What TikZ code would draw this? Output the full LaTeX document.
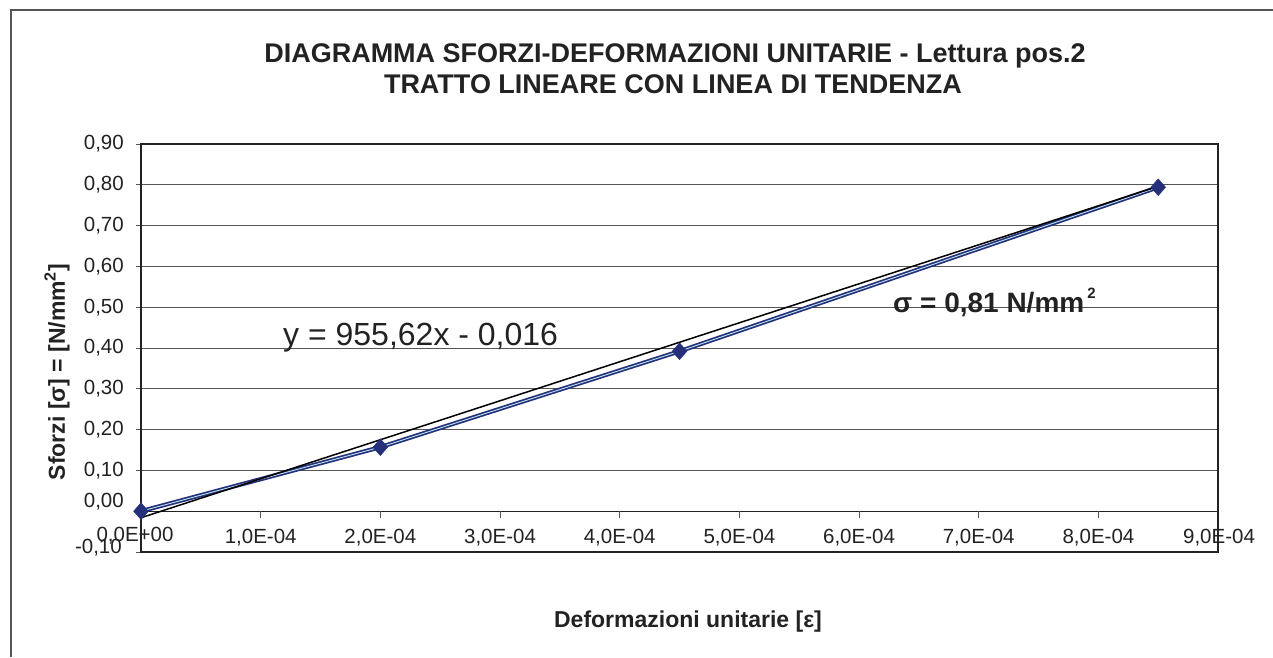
\documentclass[tikz,border=0pt]{standalone}
\usepackage{fontspec}
\setmainfont{Liberation Sans}
\usetikzlibrary{shapes.geometric}
\pgfdeclarelayer{background}
\pgfsetlayers{background,main}
\definecolor{ink}{HTML}{222222}
\definecolor{gridc}{HTML}{555555}
\definecolor{navy}{HTML}{26307A}
\definecolor{hilite}{HTML}{B8E4F0}
\tikzset{
  ticklbl/.style={font=\fontsize{20.5}{22}\selectfont, text=ink, inner sep=0pt},
  titlestyle/.style={font=\bfseries\fontsize{27}{30}\selectfont, text=ink, inner sep=0pt},
  axtitle/.style={font=\bfseries\fontsize{23}{25}\selectfont, text=ink, inner sep=0pt},
  gridline/.style={draw=gridc, line width=1pt},
  plotframe/.style={draw=ink, line width=2.2pt},
  outerframe/.style={draw=gridc, line width=1.2pt},
  series/.style={draw=navy, line width=1.7pt, double=hilite, double distance=0.9pt},
  trend/.style={draw=black, line width=1.5pt},
  datapt/.style={diamond, fill=navy, draw=navy, inner sep=0pt, minimum width=15pt, minimum height=17pt},
}
\begin{document}
\begin{tikzpicture}[x=1pt,y=-1pt]
\useasboundingbox (0,0) rectangle (1273,657);
\begin{pgfonlayer}{background}
  \fill[white] (0,0) rectangle (1273,657);
\end{pgfonlayer}
\draw[outerframe] (11,657) -- (11,10) -- (1273,10);
\node[titlestyle, anchor=base] (t1) at (675,62) {DIAGRAMMA SFORZI-DEFORMAZIONI UNITARIE - Lettura pos.2};
\node[titlestyle, anchor=base] (t2) at (673,93) {TRATTO LINEARE CON LINEA DI TENDENZA};
\begin{scope}[shift={(141,511.2)}, x=119.67pt, y=408pt]
  \begin{pgfonlayer}{background}
    \foreach \s in {0.1,0.2,0.3,0.4,0.5,0.6,0.7,0.8} {
      \draw[gridline] (0,\s) -- (9,\s);
    }
  \end{pgfonlayer}
  \foreach \s in {-0.1,0,0.1,0.2,0.3,0.4,0.5,0.6,0.7,0.8,0.9} {
    \draw[gridline] (0,\s) -- ++(-5pt,0pt);
  }
  \begin{pgfonlayer}{background}
    \draw[draw=ink, line width=1.3pt] (0,0) -- (9,0);
  \end{pgfonlayer}
  \foreach \v in {1,...,8} {
    \draw[gridline] (\v,0) -- ++(0pt,-7pt);
  }
  \draw[plotframe] (0,-0.1) rectangle (9,0.9);
  \node[datapt] (p0) at (0,0) {};
  \node[datapt] (p1) at (2,0.157) {};
  \node[datapt] (p2) at (4.5,0.392) {};
  \node[datapt] (p3) at (8.5,0.794) {};
  \coordinate (ta) at (0,-0.016);
  \coordinate (tb) at (8.5,0.7963);
  \begin{pgfonlayer}{background}
    \draw[series] (p0.center) -- (p1.center) -- (p2.center) -- (p3.center);
    \draw[trend] (ta) -- (tb);
  \end{pgfonlayer}
\end{scope}
% y tick labels
\node[ticklbl, anchor=east] (y90) at (124,144) {0,90};
\node[ticklbl, anchor=east] (y80) at (124,184.8) {0,80};
\node[ticklbl, anchor=east] (y70) at (124,225.6) {0,70};
\node[ticklbl, anchor=east] (y60) at (124,266.4) {0,60};
\node[ticklbl, anchor=east] (y50) at (124,307.2) {0,50};
\node[ticklbl, anchor=east] (y40) at (124,348) {0,40};
\node[ticklbl, anchor=east] (y30) at (124,388.8) {0,30};
\node[ticklbl, anchor=east] (y20) at (124,429.6) {0,20};
\node[ticklbl, anchor=east] (y10) at (124,470.4) {0,10};
\node[ticklbl, anchor=east] (y00) at (124,502) {0,00};
\node[ticklbl, anchor=east] (ym10) at (122,548) {-0,10};
% x tick labels
\node[ticklbl] (x0) at (135,536) {0,0E+00};
\node[ticklbl] (x1) at (260.7,538) {1,0E-04};
\node[ticklbl] (x2) at (380.3,538) {2,0E-04};
\node[ticklbl] (x3) at (500,538) {3,0E-04};
\node[ticklbl] (x4) at (619.7,538) {4,0E-04};
\node[ticklbl] (x5) at (739.4,538) {5,0E-04};
\node[ticklbl] (x6) at (859,538) {6,0E-04};
\node[ticklbl] (x7) at (978.7,538) {7,0E-04};
\node[ticklbl] (x8) at (1098.4,538) {8,0E-04};
\node[ticklbl] (x9) at (1219,538) {9,0E-04};
% axis titles
\node[axtitle, rotate=90] (ytitle) at (57,372) {Sforzi [σ] = [N/mm\textsuperscript{2}]};
\node[axtitle, anchor=base] (xtitle) at (688,627) {Deformazioni unitarie [ε]};
% annotations
\node[font=\fontsize{32}{34}\selectfont, text=ink, inner sep=0pt, anchor=base west] (eq) at (283,345) {y = 955,62x - 0,016};
\node[font=\bfseries\fontsize{28}{30}\selectfont, text=ink, inner sep=0pt, anchor=base west] (sig) at (893,312) {σ = 0,81 N/mm\kern3pt\raisebox{14pt}{\fontsize{15}{15}\selectfont 2}};
\end{tikzpicture}
\end{document}
